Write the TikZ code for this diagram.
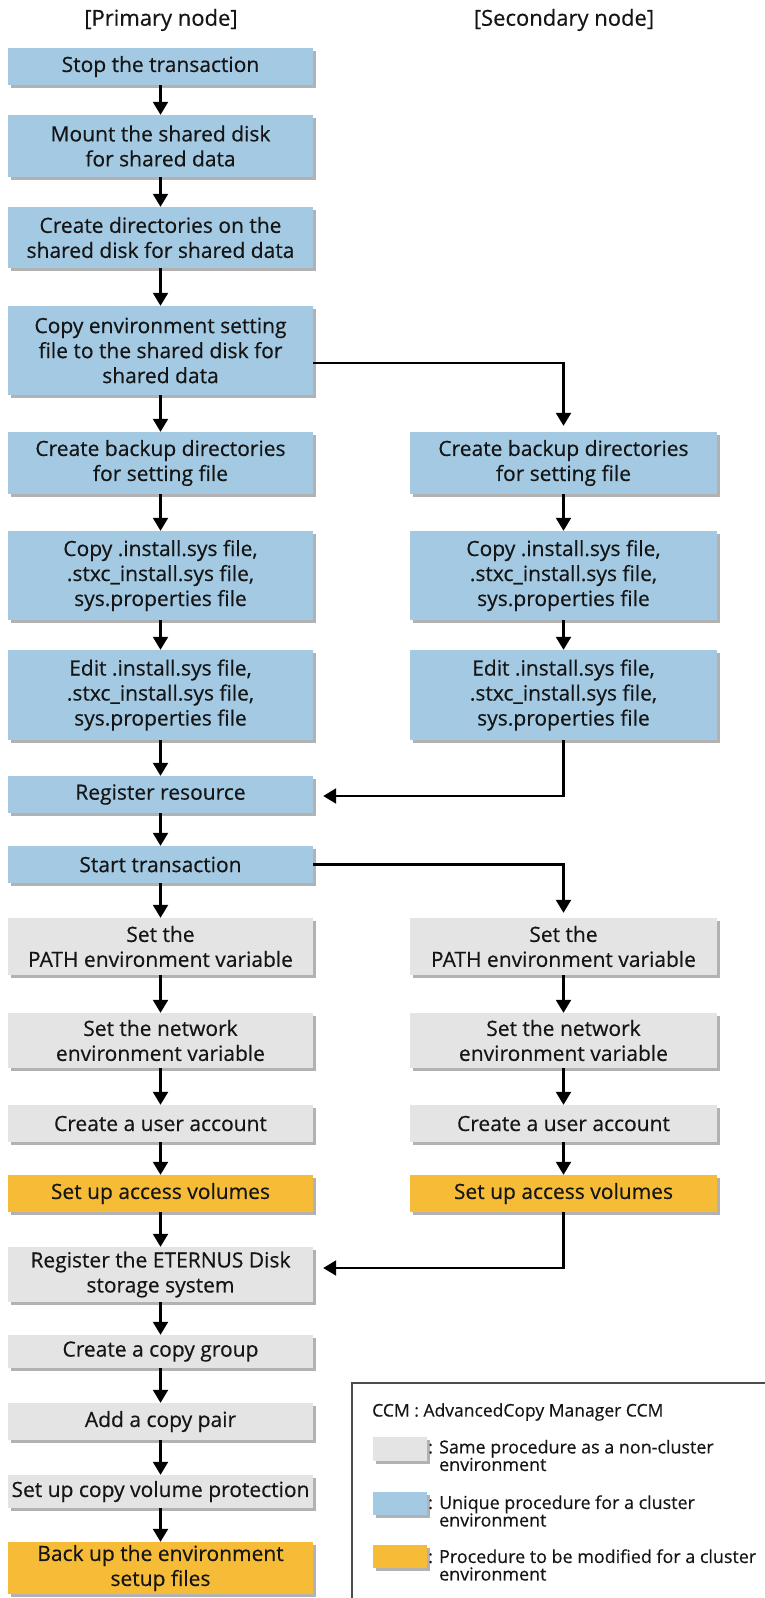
\documentclass[tikz,border=0pt]{standalone}
\usepackage{fontspec}
\setmainfont{Open Sans}
\newfontfamily\dfont{Open Sans}[FakeBold=0.4]
\usetikzlibrary{arrows.meta,calc,shadows}
\definecolor{cblue}{HTML}{A3C9E3}
\definecolor{cgray}{HTML}{E4E4E4}
\definecolor{cyel}{HTML}{F6BC38}
\definecolor{ctext}{HTML}{151515}
\begin{document}
\begin{tikzpicture}[x=1pt,y=-1pt,
  box/.style={inner sep=0pt, align=center, text=ctext,
    font=\dfont\fontsize{21}{25}\selectfont,
    drop shadow={shadow xshift=3pt, shadow yshift=-3pt, fill=black, opacity=0.3}},
  lbox/.style={box, minimum width=305pt},
  rbox/.style={box, minimum width=307pt},
  blue/.style={fill=cblue},
  gray/.style={fill=cgray},
  yel/.style={fill=cyel},
  swatch/.style={inner sep=0pt, minimum width=54pt, minimum height=24pt,
    drop shadow={shadow xshift=3pt, shadow yshift=-3pt, fill=black, opacity=0.3}},
  hdr/.style={font=\dfont\fontsize{22}{25}\selectfont, text=ctext},
  leg/.style={font=\dfont\fontsize{17.9}{17.5}\selectfont, text=ctext, align=left, inner sep=0pt, anchor=west},
  arr/.style={line width=2.3pt, -{Triangle[width=15pt,length=13pt]}},
  ln/.style={line width=2.3pt}]
\useasboundingbox (0,0) rectangle (765,1598);
\clip (0,0) rectangle (765,1598);

% headers
\node[hdr] (h1) at (161,20) {[Primary node]};
\node[hdr] (h2) at (564,20) {[Secondary node]};

% left column
\node[lbox,blue,minimum height=37pt] (b1) at (160.5,66.5) {Stop the transaction};
\node[lbox,blue,minimum height=62pt] (b2) at (160.5,146) {Mount the shared disk\\for shared data};
\node[lbox,blue,minimum height=61pt] (b3) at (160.5,237.5) {Create directories on the\\shared disk for shared data};
\node[lbox,blue,minimum height=89pt] (b4) at (160.5,350.5) {Copy environment setting\\file to the shared disk for\\shared data};
\node[lbox,blue,minimum height=62pt] (b5) at (160.5,463) {Create backup directories\\for setting file};
\node[lbox,blue,minimum height=89pt] (b6) at (160.5,575.5) {Copy .install.sys file,\\.stxc\_install.sys file,\\sys.properties file};
\node[lbox,blue,minimum height=90pt] (b7) at (160.5,695) {Edit .install.sys file,\\.stxc\_install.sys file,\\sys.properties file};
\node[lbox,blue,minimum height=37pt] (b8) at (160.5,794.5) {Register resource};
\node[lbox,blue,minimum height=37pt] (b9) at (160.5,864.5) {Start transaction};
\node[lbox,gray,minimum height=57pt] (b10) at (160.5,946.5) {Set the\\PATH environment variable};
\node[lbox,gray,minimum height=55pt] (b11) at (160.5,1040.5) {Set the network\\environment variable};
\node[lbox,gray,minimum height=37pt] (b12) at (160.5,1123.5) {Create a user account};
\node[lbox,yel,minimum height=37pt] (b13) at (160.5,1193.5) {Set up access volumes};
\node[lbox,gray,minimum height=55pt] (b14) at (160.5,1274.5) {Register the ETERNUS Disk\\storage system};
\node[lbox,gray,minimum height=33pt] (b15) at (160.5,1351.5) {Create a copy group};
\node[lbox,gray,minimum height=37pt] (b16) at (160.5,1421.5) {Add a copy pair};
\node[lbox,gray,minimum height=33pt] (b17) at (160.5,1491.5) {Set up copy volume protection};
\node[lbox,yel,minimum height=52pt] (b18) at (160.5,1568) {Back up the environment\\setup files};

% right column
\node[rbox,blue,minimum height=62pt] (r1) at (563.5,463) {Create backup directories\\for setting file};
\node[rbox,blue,minimum height=89pt] (r2) at (563.5,575.5) {Copy .install.sys file,\\.stxc\_install.sys file,\\sys.properties file};
\node[rbox,blue,minimum height=90pt] (r3) at (563.5,695) {Edit .install.sys file,\\.stxc\_install.sys file,\\sys.properties file};
\node[rbox,gray,minimum height=57pt] (r4) at (563.5,946.5) {Set the\\PATH environment variable};
\node[rbox,gray,minimum height=55pt] (r5) at (563.5,1040.5) {Set the network\\environment variable};
\node[rbox,gray,minimum height=37pt] (r6) at (563.5,1123.5) {Create a user account};
\node[rbox,yel,minimum height=37pt] (r7) at (563.5,1193.5) {Set up access volumes};

% vertical arrows left
\foreach \a/\b in {b1/b2,b2/b3,b3/b4,b4/b5,b5/b6,b6/b7,b7/b8,b8/b9,b9/b10,b10/b11,b11/b12,b12/b13,b13/b14,b14/b15,b15/b16,b16/b17,b17/b18}
  \draw[arr] (\a) -- (\b);
% vertical arrows right
\foreach \a/\b in {r1/r2,r2/r3,r4/r5,r5/r6,r6/r7}
  \draw[arr] (\a) -- (\b);

% cross connectors
\coordinate (c4) at ($(b4.east)+(0,12.5)$);
\draw[arr, shorten >=6pt] (c4) -| (r1.north);
\draw[arr, shorten >=5pt] (b9.east) -| (r4.north);
\coordinate (c8) at ($(b8.east)+(10,1.5)$);
\draw[arr] (r3.south) |- (c8);
\coordinate (c14) at ($(b14.east)+(10,-6.5)$);
\draw[arr] (r7.south) |- (c14);

% legend
\draw[line width=1.3pt, draw=black!70] (352,1620) -- (352,1383) -- (780,1383);
\node[leg, font=\dfont\fontsize{17.5}{17.5}\selectfont] (lt) at (372,1412) {CCM : AdvancedCopy Manager CCM};
\node[swatch,gray,anchor=north west] (s1) at (373,1437) {};
\node[leg] (l1) at (428,1455.5) {: Same procedure as a non-cluster\\\phantom{: }environment};
\node[swatch,blue,anchor=north west,minimum height=23pt] (s2) at (373,1492) {};
\node[leg] (l2) at (428,1511) {: Unique procedure for a cluster\\\phantom{: }environment};
\node[swatch,yel,anchor=north west,minimum height=23pt] (s3) at (373,1545) {};
\node[leg] (l3) at (428,1565) {: Procedure to be modified for a cluster\\\phantom{: }environment};
\end{tikzpicture}
\end{document}
